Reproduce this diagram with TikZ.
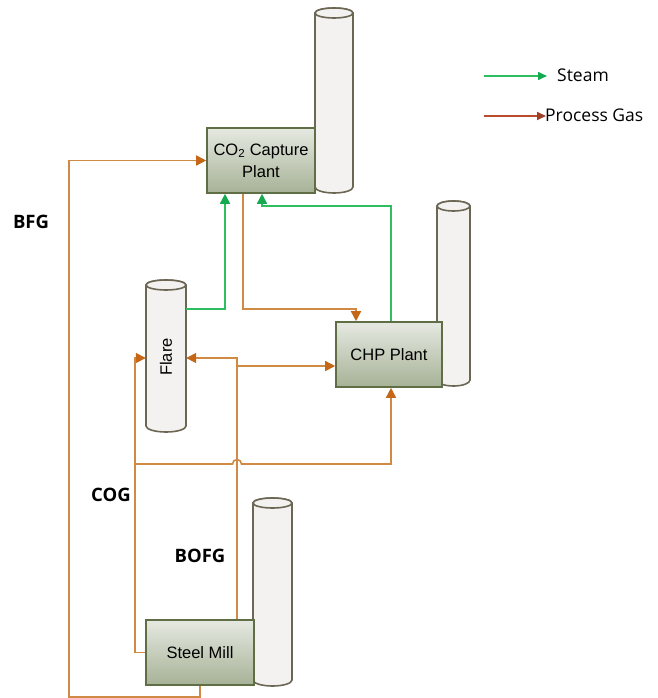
\documentclass[tikz,border=0pt]{standalone}
\usepackage{fontspec}
\setmainfont{Open Sans}
\newfontfamily\boxfont{Liberation Sans}
\usetikzlibrary{arrows.meta}
\definecolor{gasline}{RGB}{208,138,68}
\definecolor{gastip}{RGB}{196,104,24}
\definecolor{steamline}{RGB}{46,190,96}
\definecolor{steamtip}{RGB}{20,170,80}
\definecolor{legendgas}{RGB}{184,76,44}
\definecolor{boxtop}{RGB}{230,233,226}
\definecolor{boxbot}{RGB}{166,178,150}
\definecolor{boxedge}{RGB}{96,110,70}
\definecolor{stackfill}{RGB}{243,242,240}
\definecolor{stackedge}{RGB}{108,102,84}
\tikzset{
  gas/.style={draw=gasline, line width=1.6pt},
  gasarrow/.style={gas, -{Triangle[length=10pt,width=10pt,color=gastip]}},
  steam/.style={draw=steamline, line width=1.6pt},
  steamarrow/.style={steam, -{Triangle[length=10pt,width=10pt,color=steamtip]}},
  plantbox/.style={draw=boxedge, line width=1.6pt, top color=boxtop, bottom color=boxbot,
    align=center, font=\boxfont\fontsize{16.5}{19}\selectfont, text=black, inner sep=0pt},
  stackstyle/.style={draw=stackedge, fill=stackfill, line width=1.6pt},
  gaslabel/.style={font=\fontsize{18.5}{20}\selectfont\bfseries, text=black},
  legendtext/.style={font=\fontsize{17.5}{20}\selectfont, text=black, anchor=west, inner sep=0pt}
}
\newcommand{\mystack}[4]{%
  \pgfmathsetmacro\stcx{(#1+#2)/2}%
  \pgfmathsetmacro\strx{(#2-#1)/2}%
  \draw[stackstyle] (#1,-#3) -- (#1,-#4) arc[start angle=180,end angle=360,x radius=\strx,y radius=6] -- (#2,-#3) arc[start angle=0,end angle=180,x radius=\strx,y radius=5] -- cycle;
  \draw[stackstyle] (\stcx,-#3) ellipse[x radius=\strx,y radius=5];
}
\begin{document}
\begin{tikzpicture}[x=1pt,y=1pt]
\useasboundingbox (0,0) rectangle (657,-698);

% stacks
\mystack{315}{353}{13}{187}
\mystack{437}{470}{206}{380}
\mystack{253}{292}{503}{680}
\mystack{146}{186}{285}{426}

% plant boxes
\node[plantbox, minimum width=108pt, minimum height=65pt] (co2) at (261,-160.5) {CO\textsubscript{2} Capture\\[3pt]Plant};
\node[plantbox, minimum width=106pt, minimum height=65pt] (chp) at (389,-354.5) {CHP Plant};
\node[plantbox, minimum width=108pt, minimum height=65pt] (mill) at (200,-652.5) {Steel Mill};
\node[minimum width=40pt, minimum height=140pt, inner sep=0pt] (flare) at (166,-355.5) {};
\node[rotate=90, font=\boxfont\fontsize{16.5}{19}\selectfont, text=black] (flaretext) at (166,-357) {Flare};

% steam connectors
\draw[steamarrow] (flare.east |- 0,-309) -- (225,-309) -- (225,-309 |- co2.south);
\draw[steamarrow] (391,-309 |- chp.north) -- (391,-206) -- (262,-206) -- (262,-206 |- co2.south);

% gas connectors
\draw[gasarrow] (243,-200 |- co2.south) -- (243,-309) -- (356,-309) -- (356,-309 |- chp.north);
\draw[gasarrow] (237,-600 |- mill.north) -- (237,-358) -- (flare.east |- 0,-358);
\draw[gasarrow] (237,-366) -- (chp.west |- 0,-366);
\draw[gasarrow] (mill.west) -- (135,-652.5) -- (135,-358) -- (flare.west |- 0,-358);
\draw[gasarrow] (135,-464) -- (232.5,-464) arc[start angle=180,end angle=0,radius=4.5] -- (391,-464) -- (391,-400 |- chp.south);
\draw[gasarrow] (200,-690 |- mill.south) -- (200,-697) -- (69,-697) -- (69,-160.5) -- (co2.west);

% labels
\node[gaslabel] (bfg) at (31,-222) {BFG};
\node[gaslabel] (cog) at (111,-495) {COG};
\node[gaslabel] (bofg) at (200,-556) {BOFG};

% legend
\coordinate (ls1) at (484,-76);
\coordinate (ls2) at (547,-76);
\draw[steam, -{Triangle[length=9pt,width=8pt,color=steamtip]}] (ls1) -- (ls2);
\node[legendtext] (steamtxt) at (557,-75) {Steam};
\coordinate (lg1) at (484,-116);
\coordinate (lg2) at (546,-116);
\draw[draw=legendgas, line width=1.6pt, -{Triangle[length=9pt,width=8pt,color=legendgas!85!black]}] (lg1) -- (lg2);
\node[legendtext] (gastxt) at (545,-115) {Process Gas};
\end{tikzpicture}
\end{document}
